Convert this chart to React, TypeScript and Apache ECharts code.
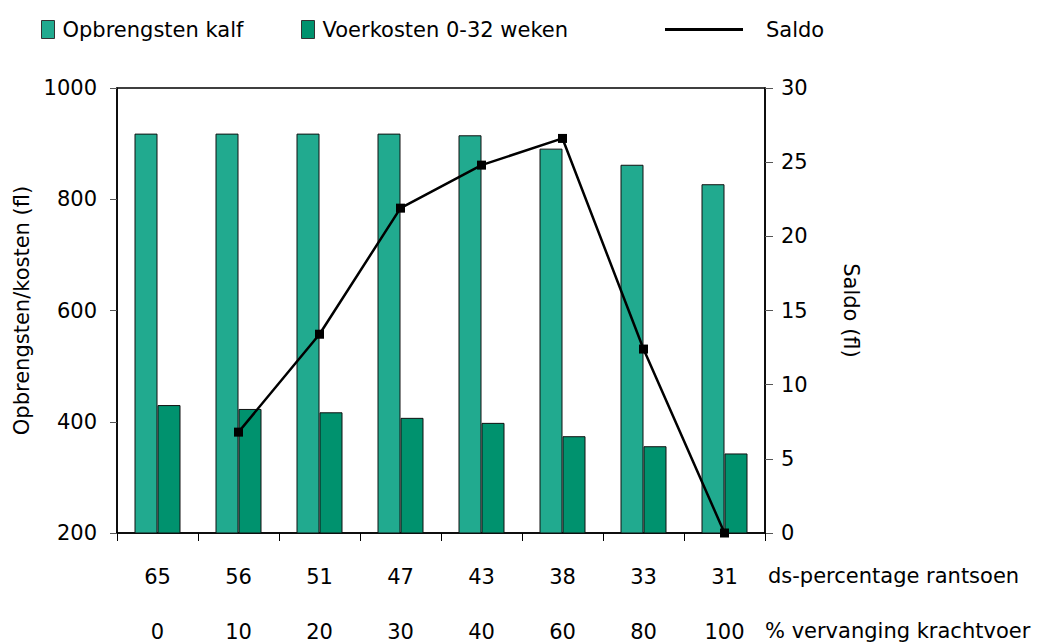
import React, { useEffect, useRef } from "react";
import * as echarts from "echarts";

const dsPercentage = ["65", "56", "51", "47", "43", "38", "33", "31"];
const vervanging = ["0", "10", "20", "30", "40", "60", "80", "100"];
const opbrengsten = [918, 918, 918, 918, 915, 891, 862, 827];
const voerkosten = [430, 423, 417, 407, 398, 374, 356, 343];
const saldo = [null, 6.8, 13.4, 21.9, 24.8, 26.6, 12.4, 0];

const FONT = "'DejaVu Sans', sans-serif";
const FS = 21;

export default function App() {
  const ref = useRef<HTMLDivElement>(null);
  useEffect(() => {
    if (!ref.current) return;
    const chart = echarts.init(ref.current, undefined, { renderer: "svg" });
    const categories = dsPercentage.map((d, i) => `${d}\n${vervanging[i]}`);
    const legendText = { fontFamily: FONT, fontSize: FS, color: "#000" };
    chart.setOption({
      animation: false,
      textStyle: { fontFamily: FONT, color: "#000" },
      grid: {
        left: 117,
        right: 284,
        top: 88,
        bottom: 110,
        outerBoundsMode: "none",
        containLabel: false,
        show: true,
        borderColor: "#000",
        borderWidth: 1.5,
      },
      legend: [
        {
          left: 36,
          top: 14,
          itemWidth: 13,
          itemHeight: 18,
          icon: "rect",
          itemStyle: { borderColor: "#333", borderWidth: 1 },
          textStyle: { ...legendText, padding: [0, 0, 0, 3] },
          data: ["Opbrengsten kalf"],
        },
        {
          left: 296,
          top: 14,
          itemWidth: 13,
          itemHeight: 18,
          icon: "rect",
          itemStyle: { borderColor: "#333", borderWidth: 1 },
          textStyle: { ...legendText, padding: [0, 0, 0, 3] },
          data: ["Voerkosten 0-32 weken"],
        },
        {
          left: 660,
          top: 14,
          itemWidth: 78,
          itemHeight: 18,
          textStyle: { ...legendText, padding: [0, 0, 0, 18] },
          data: [{ name: "Saldo", icon: "path://M0,0 L100,0 L100,4 L0,4 Z" }],
        },
      ],
      xAxis: {
        type: "category",
        data: categories,
        axisLine: { lineStyle: { color: "#000", width: 1.5 } },
        axisTick: { show: true, length: 8, lineStyle: { color: "#000" } },
        axisLabel: {
          fontFamily: FONT,
          fontSize: FS,
          color: "#000",
          lineHeight: 55,
          margin: 16,
        },
      },
      yAxis: [
        {
          type: "value",
          min: 200,
          max: 1000,
          interval: 200,
          name: "Opbrengsten/kosten (fl)",
          nameLocation: "middle",
          nameGap: 80,
          nameTextStyle: { fontFamily: FONT, fontSize: FS, color: "#000" },
          axisLine: { show: true, lineStyle: { color: "#000", width: 1.5 } },
          axisTick: { show: true, length: 7, lineStyle: { color: "#555" } },
          splitLine: { show: false },
          axisLabel: {
            fontFamily: FONT,
            fontSize: FS,
            color: "#000",
            margin: 20,
            formatter: (v: number) => String(v),
          },
        },
        {
          type: "value",
          min: 0,
          max: 30,
          interval: 5,
          position: "right",
          name: "Saldo (fl)",
          nameLocation: "middle",
          nameRotate: -90,
          nameGap: 75,
          nameTextStyle: { fontFamily: FONT, fontSize: FS, color: "#000" },
          axisLine: { show: true, lineStyle: { color: "#000", width: 1.5 } },
          axisTick: { show: true, length: 8, lineStyle: { color: "#555" } },
          splitLine: { show: false },
          axisLabel: { fontFamily: FONT, fontSize: FS, color: "#000", margin: 16 },
        },
      ],
      graphic: [
        {
          type: "text",
          left: 768,
          top: 565,
          style: { text: "ds-percentage rantsoen", font: `${FS}px ${FONT}`, fill: "#000" },
        },
        {
          type: "text",
          left: 765,
          top: 620,
          style: { text: "% vervanging krachtvoer", font: `${FS}px ${FONT}`, fill: "#000" },
        },
      ],
      series: [
        {
          name: "Opbrengsten kalf",
          type: "bar",
          data: opbrengsten,
          barWidth: 23,
          barGap: "0%",
          itemStyle: { color: "#21AA8F", borderColor: "#111", borderWidth: 1 },
        },
        {
          name: "Voerkosten 0-32 weken",
          type: "bar",
          data: voerkosten,
          barWidth: 23,
          barGap: "0%",
          itemStyle: { color: "#00926E", borderColor: "#111", borderWidth: 1 },
        },
        {
          name: "Saldo",
          type: "line",
          yAxisIndex: 1,
          data: saldo,
          symbol: "rect",
          symbolSize: 9,
          lineStyle: { color: "#000", width: 2.5 },
          itemStyle: { color: "#000" },
        },
      ],
    });
    return () => chart.dispose();
  }, []);
  return <div ref={ref} style={{ width: 1049, height: 643, position: "absolute", left: 0, top: 0 }} />;
}
